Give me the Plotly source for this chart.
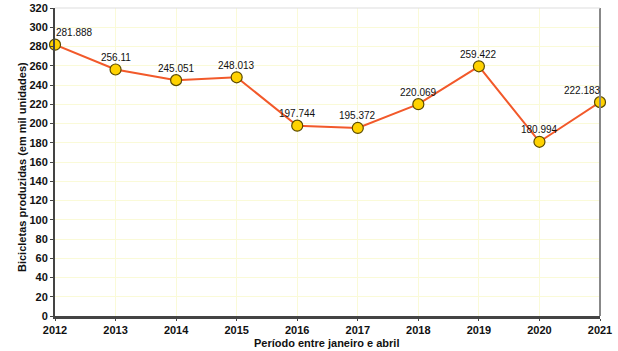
import plotly.graph_objects as go

years = [2012, 2013, 2014, 2015, 2016, 2017, 2018, 2019, 2020, 2021]
values = [281.888, 256.11, 245.051, 248.013, 197.744, 195.372, 220.069, 259.422, 180.994, 222.183]
labels = ["281.888", "256.11", "245.051", "248.013", "197.744", "195.372", "220.069", "259.422", "180.994", "222.183"]
label_xshift = [19, 0, 0, 0, 0, 0, 0, 0, 0, -18]

W, H = 618, 351
L, R, T, B = 55, 18, 8, 35
plot_h = H - T - B
plot_w = W - L - R

fig = go.Figure()
fig.add_trace(go.Scatter(
    x=years, y=values, mode="lines+markers",
    line=dict(color="#F2592A", width=2),
    marker=dict(size=11, color="#FFD200", line=dict(color="#5a4a00", width=1.2)),
    cliponaxis=False, hoverinfo="skip",
))

annotations = [
    dict(x=x, y=y, text=t, xref="x", yref="y", showarrow=False,
         xshift=xs, yshift=12, xanchor="center", yanchor="middle",
         font=dict(family="Liberation Sans, Arial", size=10, color="#111111"))
    for x, y, t, xs in zip(years, values, labels, label_xshift)
]
annotations += [
    dict(text="<b>Período entre janeiro e abril</b>", xref="paper", yref="paper",
         x=(327 - L) / plot_w, y=-(343 - (H - B)) / plot_h, showarrow=False,
         font=dict(size=11), xanchor="center", yanchor="middle"),
    dict(text="<b>Bicicletas produzidas (em mil unidades)</b>", xref="paper", yref="paper",
         x=-(L - 22) / plot_w, y=((H - B) - 167) / plot_h, showarrow=False,
         font=dict(size=11), textangle=-90, xanchor="center", yanchor="middle"),
]

fig.update_layout(
    width=W, height=H,
    margin=dict(l=L, r=R, t=T, b=B),
    paper_bgcolor="white", plot_bgcolor="white",
    showlegend=False,
    font=dict(family="Liberation Sans, Arial", color="#111111"),
    xaxis=dict(
        range=[2012, 2021], tickmode="array", tickvals=years,
        ticktext=[str(y) for y in years],
        tickfont=dict(size=11, family="Liberation Sans, Arial", weight="bold"),
        showgrid=True, gridcolor="#FAFAD8", gridwidth=1,
        showline=True, linecolor="#444444", linewidth=3,
        mirror=False, zeroline=False, automargin=False,
        ticks="outside", ticklen=2, tickcolor="#444444",
    ),
    yaxis=dict(
        range=[0, 320], dtick=20,
        tickfont=dict(size=11, family="Liberation Sans, Arial", weight="bold"),
        showgrid=True, gridcolor="#FAFAD8", gridwidth=1,
        showline=True, linecolor="#444444", linewidth=2,
        zeroline=False, automargin=False,
        ticks="outside", ticklen=3, tickcolor="#444444",
    ),
    annotations=annotations,
    shapes=[
        dict(type="line", xref="paper", yref="paper", x0=1, x1=1, y0=0, y1=1,
             line=dict(color="#888888", width=2)),
        dict(type="line", xref="paper", yref="paper", x0=0, x1=1, y0=1, y1=1,
             line=dict(color="#DDDDDD", width=1)),
    ],
)

fig.write_html("out.html")
